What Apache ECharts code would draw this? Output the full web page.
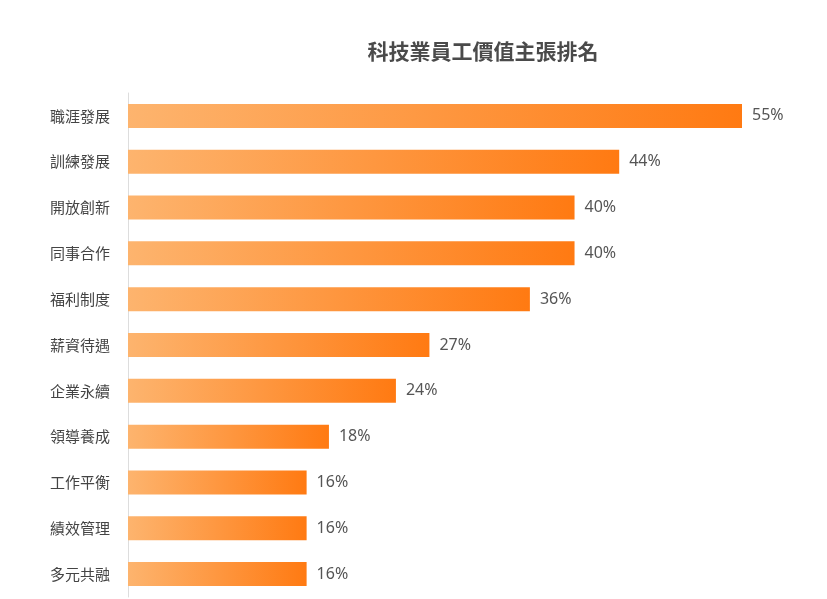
<!DOCTYPE html>
<html><head><meta charset="utf-8">
<script src="https://cdn.jsdelivr.net/npm/echarts@6/dist/echarts.min.js"></script>
<style>html,body{margin:0;padding:0;background:#fff}#c{width:827px;height:599px}</style>
</head><body><div id="c"></div>
<script>
const categories = ['職涯發展','訓練發展','開放創新','同事合作','福利制度','薪資待遇','企業永續','領導養成','工作平衡','績效管理','多元共融'];
const values = [55,44,40,40,36,27,24,18,16,16,16];
const chart = echarts.init(document.getElementById('c'));
chart.setOption({
  backgroundColor:'#fff',
  title:{text:'科技業員工價值主張排名',left:478,top:36,textAlign:'center',
    textStyle:{fontSize:21,fontWeight:'bold',color:'#4a4a4a',fontFamily:'Noto Sans CJK TC'}},
  grid:{left:128,right:85,top:93,bottom:2},
  xAxis:{type:'value',min:0,max:55,show:false},
  yAxis:{type:'category',data:categories,inverse:true,
    axisLine:{show:true,lineStyle:{color:'#ddd'}},axisTick:{show:false},
    axisLabel:{color:'#444',fontSize:15,margin:18,fontFamily:'Noto Sans CJK TC'}},
  series:[{type:'bar',data:values,barWidth:24,
    itemStyle:{color:new echarts.graphic.LinearGradient(0,0,1,0,[{offset:0,color:'#FDB46E'},{offset:1,color:'#FF7A12'}])},
    label:{show:true,position:'right',distance:10,formatter:'{c}%',color:'#555',fontSize:16,fontFamily:'Noto Sans'}}]
});
</script></body></html>
